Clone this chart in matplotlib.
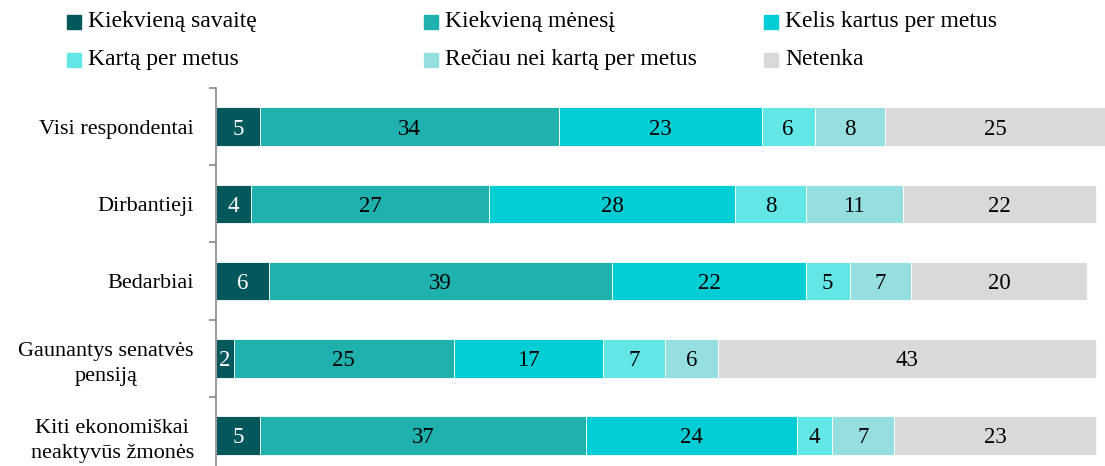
import numpy as np
import matplotlib.pyplot as plt
from matplotlib.patches import Rectangle

# duomenys
grupes = ['Visi respondentai', 'Dirbantieji', 'Bedarbiai',
          'Gaunantys senatvės\npensiją', 'Kiti ekonomiškai\nneaktyvūs žmonės']
serijos = ['Kiekvieną savaitę', 'Kiekvieną mėnesį', 'Kelis kartus per metus',
           'Kartą per metus', 'Rečiau nei kartą per metus', 'Netenka']
kas_savaite = [5, 4, 6, 2, 5]
kas_menesi = [34, 27, 39, 25, 37]
kelis_kartus = [23, 28, 22, 17, 24]
karta_metus = [6, 8, 5, 7, 4]
reciau = [8, 11, 7, 6, 7]
netenka = [25, 22, 20, 43, 23]
spalvos = ['#03585c', '#1fb1ae', '#00ced4', '#62e6e6', '#95dfe0', '#d9d9d9']

reiksmes = [kas_savaite, kas_menesi, kelis_kartus, karta_metus, reciau, netenka]

plt.rcParams['font.family'] = ['Liberation Serif', 'DejaVu Serif']

W, H = 1105, 466
fig = plt.figure(figsize=(W / 100, H / 100), dpi=100)
ax = fig.add_axes([216 / W, -8 / H, 889 / W, 386 / H])

y = np.arange(len(grupes))
kaire = np.zeros(len(grupes))
for i, vals in enumerate(reiksmes):
    vals = np.array(vals)
    ax.barh(y, vals, left=kaire, height=0.5, color=spalvos[i], edgecolor='white', linewidth=0.6)
    for j, v in enumerate(vals):
        ax.text(kaire[j] + v / 2, y[j], str(v), ha='center', va='center_baseline', fontsize=16.5,
                color='white' if i == 0 else 'black')
    kaire += vals

ax.set_xlim(0, 101)
ax.set_ylim(len(grupes) - 0.5, -0.5)
ax.set_yticks(y)
ax.set_yticklabels(grupes, fontsize=16, linespacing=1.45, multialignment='center')
ax.set_yticks(np.arange(-0.5, len(grupes), 1), minor=True)
ax.tick_params(axis='y', which='major', length=0, pad=16)
ax.tick_params(axis='y', which='minor', length=5, color='#888888', width=1.2)
ax.set_xticks([])
for s in ['top', 'right', 'bottom']:
    ax.spines[s].set_visible(False)
ax.spines['left'].set_color('#888888')
ax.spines['left'].set_linewidth(1.2)

# legenda ranka
poz = [(67, 22), (424, 22), (764, 22), (67, 60), (424, 60), (764, 60)]
for (px, py), sp, pav in zip(poz, spalvos, serijos):
    fig.patches.append(Rectangle((px / W, 1 - (py + 7) / H), 14 / W, 14 / H,
                                 transform=fig.transFigure, color=sp))
    fig.text((px + 21) / W, 1 - py / H, pav, fontsize=17, va='center', ha='left')

fig.savefig('out.png', dpi=100)
